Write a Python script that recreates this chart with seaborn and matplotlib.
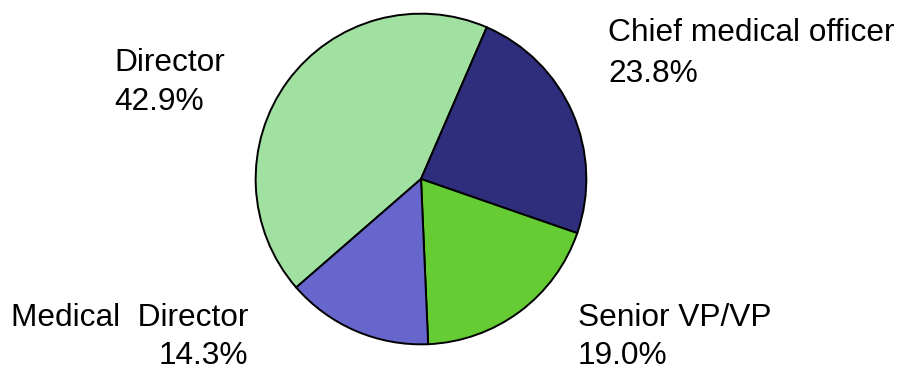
import matplotlib
matplotlib.use("Agg")
import matplotlib.pyplot as plt
import seaborn as sns

# Data
categories = ["Director", "Chief medical officer", "Senior VP/VP", "Medical  Director"]
percents = [42.9, 23.8, 19.0, 14.3]
pct_labels = ["42.9%", "23.8%", "19.0%", "14.3%"]
colors = ["#A0E0A0", "#2E2E7C", "#66CC33", "#6666CC"]

sns.set_theme(style="white")
plt.rcParams['font.family'] = ['Liberation Sans', 'DejaVu Sans']

W, H = 901, 370
fig = plt.figure(figsize=(W / 100, H / 100), dpi=100)
fig.patch.set_facecolor("white")

cx, cy, r = 421, 179, 167
ax = fig.add_axes([(cx - r) / W, (H - cy - r) / H, 2 * r / W, 2 * r / H])
palette = sns.color_palette(colors)
ax.pie(percents, colors=palette, startangle=221, counterclock=False,
       wedgeprops=dict(edgecolor="black", linewidth=1.4), radius=1)
ax.set_xlim(-1.01, 1.01)
ax.set_ylim(-1.01, 1.01)
ax.set_aspect("equal")
ax.axis("off")

fs = 22.8
# label positions in pixels: (x, baseline1, baseline2, ha)
pos = [
    (114, 71, 110, "left"),
    (608, 41, 82, "left"),
    (578, 326, 364, "left"),
    (248, 326, 364, "right"),
]
for cat, pl, (x, b1, b2, ha) in zip(categories, pct_labels, pos):
    fig.text(x / W, 1 - b1 / H, cat, ha=ha, va="baseline", fontsize=fs, color="black")
    fig.text(x / W, 1 - b2 / H, pl, ha=ha, va="baseline", fontsize=fs, color="black")

fig.savefig("out.png", dpi=100, facecolor="white")
